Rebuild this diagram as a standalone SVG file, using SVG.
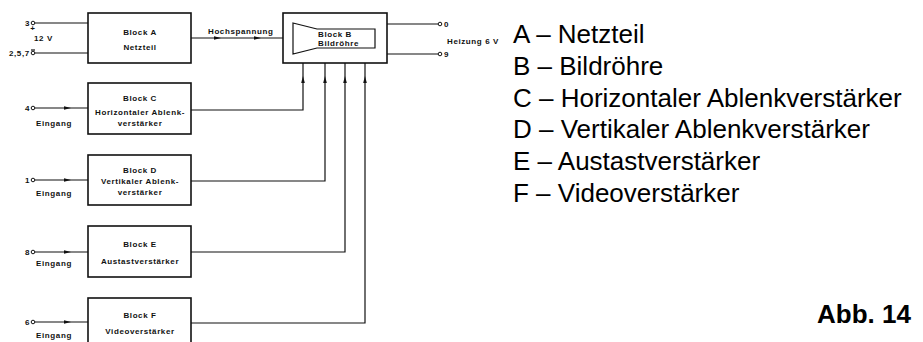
<svg xmlns="http://www.w3.org/2000/svg" width="923" height="342" viewBox="0 0 923 342">
<style>
.blk{fill:#fff;stroke:#111;stroke-width:1.6}
.ln{fill:none;stroke:#111;stroke-width:1.2}
.t{font-family:"Liberation Sans",Arial,sans-serif;font-weight:bold;font-size:8px;letter-spacing:0.6px;fill:#111}
.tm{text-anchor:middle}
.term{fill:#fff;stroke:#111;stroke-width:1}
.ah{fill:#111}
.lg{font-family:"Liberation Sans",Arial,sans-serif;font-size:26px;fill:#000}
</style>
<defs>
<polygon id="arR" class="ah" points="-4,-1.8 3,0 -4,1.8"/>
<polygon id="arU" class="ah" points="-1.8,4 0,-3 1.8,4"/>
</defs>
<rect width="923" height="342" fill="#fff"/>
<g id="connectors">
<line class="ln" x1="35" y1="23" x2="88" y2="23"/>
<line class="ln" x1="35" y1="53" x2="88" y2="53"/>
<line class="ln" x1="191" y1="38" x2="283" y2="38"/>
<use href="#arR" x="218" y="38"/>
<use href="#arR" x="258" y="38"/>
<line class="ln" x1="387" y1="24" x2="438" y2="24"/>
<line class="ln" x1="387" y1="54" x2="438" y2="54"/>
<line class="ln" x1="35" y1="108" x2="88" y2="108"/>
<use href="#arR" x="68" y="108"/>
<line class="ln" x1="35" y1="180" x2="88" y2="180"/>
<use href="#arR" x="68" y="180"/>
<line class="ln" x1="35" y1="252" x2="88" y2="252"/>
<use href="#arR" x="68" y="252"/>
<line class="ln" x1="35" y1="322" x2="88" y2="322"/>
<use href="#arR" x="68" y="322"/>
<polyline class="ln" points="191,110 303,110 303,63"/>
<polyline class="ln" points="191,181 325,181 325,63"/>
<polyline class="ln" points="191,252 345,252 345,63"/>
<polyline class="ln" points="191,323 365,323 365,63"/>
<use href="#arU" x="303" y="79"/>
<use href="#arU" x="325" y="79"/>
<use href="#arU" x="345" y="79"/>
<use href="#arU" x="365" y="79"/>
</g>
<g id="terminals">
<circle class="term" cx="33" cy="23" r="1.8"/>
<text class="t" x="25" y="26">3</text>
<text class="t tm" x="33" y="31">+</text>
<text class="t" x="34" y="41">12 V</text>
<circle class="term" cx="33" cy="53" r="1.8"/>
<line class="ln" x1="31" y1="50" x2="35" y2="50"/>
<text class="t" x="9" y="56" letter-spacing="0.3">2,5,7</text>
<circle class="term" cx="440" cy="24" r="1.8"/>
<text class="t" x="444" y="27">0</text>
<circle class="term" cx="440" cy="54" r="1.8"/>
<text class="t" x="444" y="57">9</text>
<text class="t" x="447" y="44">Heizung 6 V</text>
<text class="t" x="208" y="34">Hochspannung</text>
<circle class="term" cx="33" cy="108" r="1.8"/>
<text class="t" x="25" y="111">4</text>
<text class="t tm" x="54" y="126">Eingang</text>
<circle class="term" cx="33" cy="180" r="1.8"/>
<text class="t" x="25" y="183">1</text>
<text class="t tm" x="54" y="196">Eingang</text>
<circle class="term" cx="33" cy="252" r="1.8"/>
<text class="t" x="25" y="255">8</text>
<text class="t tm" x="54" y="266">Eingang</text>
<circle class="term" cx="33" cy="322" r="1.8"/>
<text class="t" x="25" y="325">6</text>
<text class="t tm" x="54" y="338">Eingang</text>
</g>
<g id="blockA">
<rect class="blk" x="88" y="13" width="103" height="50"/>
<text class="t tm" x="140" y="35">Block A</text>
<text class="t tm" x="140" y="50">Netzteil</text>
</g>
<g id="blockB">
<rect class="blk" x="283" y="13" width="104" height="50"/>
<polygon class="ln" points="293,23 317,29 375,29 375,48 317,48 293,54"/>
<text class="t" x="318" y="37">Block B</text>
<text class="t" x="318" y="46">Bildröhre</text>
</g>
<g id="blockC">
<rect class="blk" x="88" y="83" width="103" height="51"/>
<text class="t tm" x="140" y="101">Block C</text>
<text class="t tm" x="140" y="115">Horizontaler Ablenk-</text>
<text class="t tm" x="140" y="126">verstärker</text>
</g>
<g id="blockD">
<rect class="blk" x="88" y="155" width="103" height="50"/>
<text class="t tm" x="140" y="173">Block D</text>
<text class="t tm" x="140" y="184">Vertikaler Ablenk-</text>
<text class="t tm" x="140" y="195">verstärker</text>
</g>
<g id="blockE">
<rect class="blk" x="88" y="226" width="103" height="51"/>
<text class="t tm" x="140" y="247">Block E</text>
<text class="t tm" x="140" y="264">Austastverstärker</text>
</g>
<g id="blockF">
<rect class="blk" x="88" y="298" width="103" height="51"/>
<text class="t tm" x="140" y="318">Block F</text>
<text class="t tm" x="140" y="334">Videoverstärker</text>
</g>
<g id="legend">
<text class="lg" x="513" y="43">A – Netzteil</text>
<text class="lg" x="513" y="75">B – Bildröhre</text>
<text class="lg" x="513" y="107">C – Horizontaler Ablenkverstärker</text>
<text class="lg" x="513" y="138">D – Vertikaler Ablenkverstärker</text>
<text class="lg" x="513" y="170">E – Austastverstärker</text>
<text class="lg" x="513" y="202">F – Videoverstärker</text>
<text class="lg" x="817" y="323" font-weight="bold">Abb. 14</text>
</g>
</svg>
